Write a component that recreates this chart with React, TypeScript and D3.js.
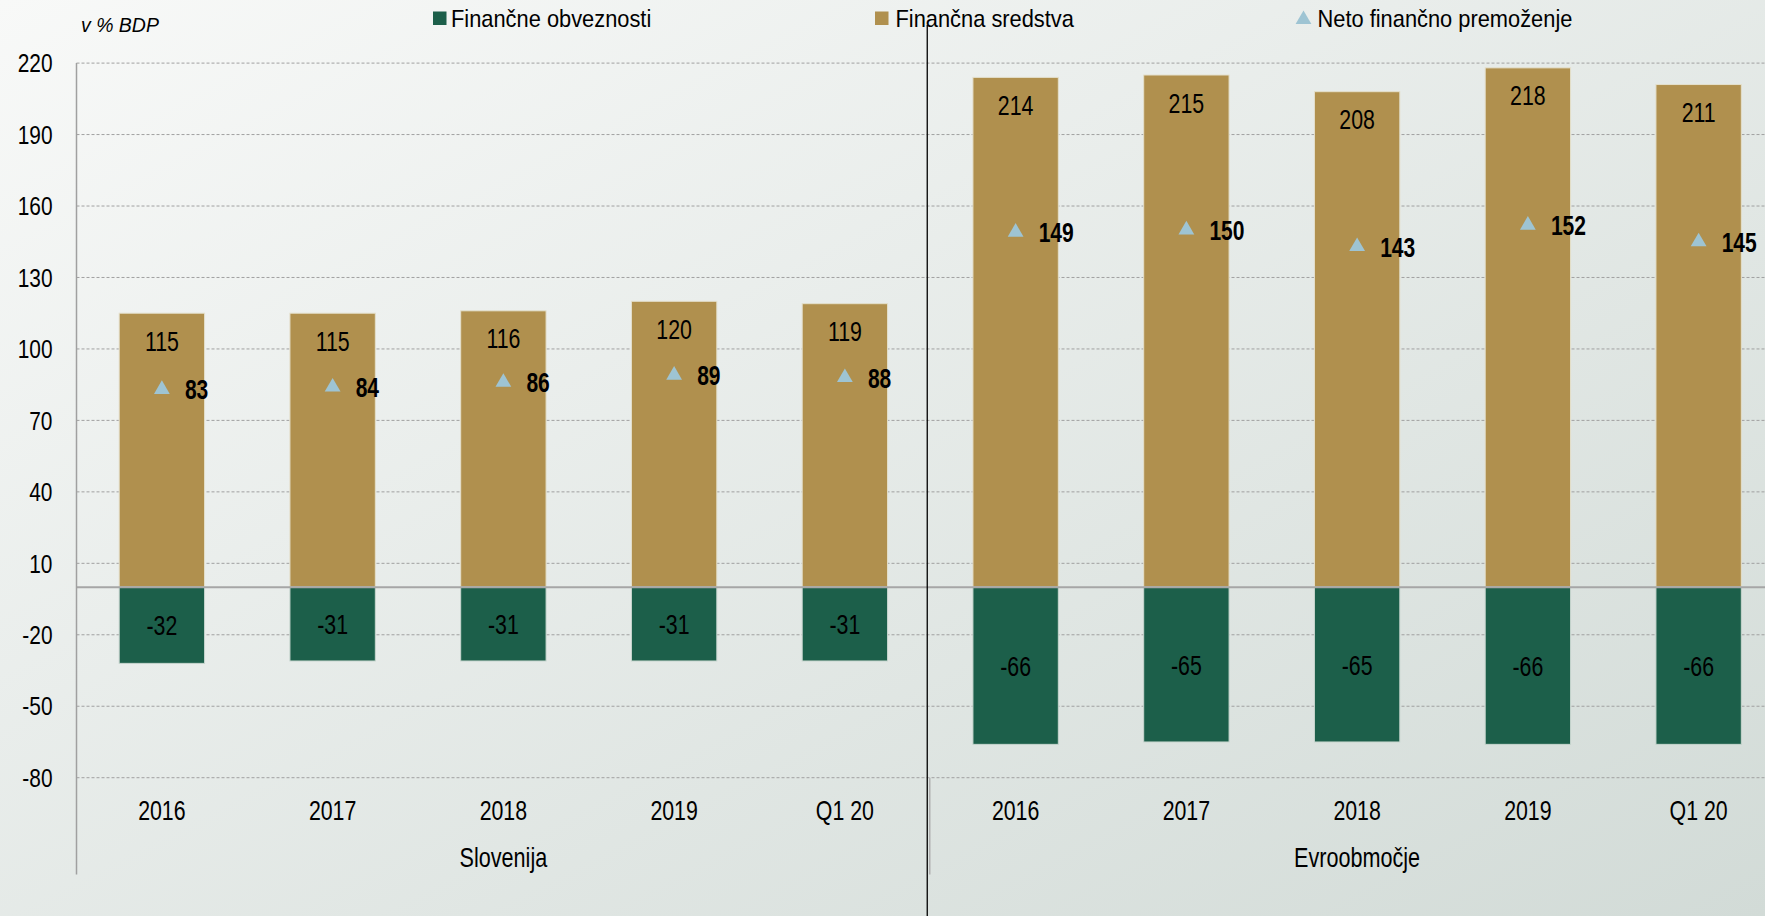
import React from "react";
import * as d3 from "d3";

const groups = ["Slovenija", "Evroobmočje"];
const periods = ["2016", "2017", "2018", "2019", "Q1 20"];
const assetsSI = [115, 115, 116, 120, 119];
const liabilitiesSI = [-32, -31, -31, -31, -31];
const netSI = [83, 84, 86, 89, 88];
const assetsEA = [214, 215, 208, 218, 211];
const liabilitiesEA = [-66, -65, -65, -66, -66];
const netEA = [149, 150, 143, 152, 145];
const yTicks = [-80, -50, -20, 10, 40, 70, 100, 130, 160, 190, 220];
const legendLabels = ["Finančne obveznosti", "Finančna sredstva", "Neto finančno premoženje"];
const yTitle = "v % BDP";

const W = 1765;
const H = 916;
const FONT = "'Liberation Sans', Arial, sans-serif";
const C_ASSET = "#B0904E";
const C_LIAB = "#1C5F4A";
const C_NET = "#9EC4D3";

type Row = { key: string; group: string; period: string; assets: number; liab: number; net: number };

const rows: Row[] = [];
groups.forEach((g, gi) => {
  const a = gi === 0 ? assetsSI : assetsEA;
  const l = gi === 0 ? liabilitiesSI : liabilitiesEA;
  const n = gi === 0 ? netSI : netEA;
  periods.forEach((p, i) => {
    rows.push({ key: g + "|" + p, group: g, period: p, assets: a[i], liab: l[i], net: n[i] });
  });
});

function NText(props: {
  x: number;
  y: number;
  sx?: number;
  size: number;
  anchor?: string;
  bold?: boolean;
  italic?: boolean;
  children: React.ReactNode;
}) {
  const { x, y, sx = 0.8, size, anchor = "start", bold, italic, children } = props;
  return (
    <text
      transform={`translate(${x},${y}) scale(${sx},1)`}
      textAnchor={anchor}
      fontSize={size}
      fontWeight={bold ? "bold" : "normal"}
      fontStyle={italic ? "italic" : "normal"}
      fill="#000"
    >
      {children}
    </text>
  );
}

export default function App() {
  const left = 76.5;
  const x = d3
    .scaleBand<string>()
    .domain(rows.map((r) => r.key))
    .range([left, 1784])
    .paddingInner(0.5)
    .paddingOuter(0.25);
  const y = d3.scaleLinear().domain([-80, 220]).range([777.7, 63.1]);
  const bw = x.bandwidth();
  const step = x.step();
  const tri = d3.symbol().type(d3.symbolTriangle).size(108)() as string;
  const groupMid = (gi: number) => {
    const first = x(rows[gi * 5].key)! - step * 0.25;
    const last = x(rows[gi * 5 + 4].key)! + bw + step * 0.25;
    return (first + last) / 2;
  };
  const sepX = x(rows[5].key)! - step * 0.25;

  return (
    <svg
      width={W}
      height={H}
      style={{ position: "absolute", left: 0, top: 0, display: "block" }}
      fontFamily={FONT}
    >
      <defs>
        <linearGradient id="bg" x1="0" y1="0" x2="1" y2="1">
          <stop offset="0" stopColor="#f8f9f8" />
          <stop offset="1" stopColor="#d2dbd7" />
        </linearGradient>
      </defs>
      <rect x={0} y={0} width={W} height={H} fill="url(#bg)" />

      {/* gridlines */}
      {yTicks.map((t) => (
        <line
          key={"g" + t}
          x1={left}
          x2={W}
          y1={y(t)}
          y2={y(t)}
          stroke="#a0a0a0"
          strokeWidth={1}
          strokeDasharray="3,2"
        />
      ))}

      {/* bars */}
      {rows.map((r) => (
        <g key={r.key}>
          <rect
            x={x(r.key)!}
            y={y(r.assets)}
            width={bw}
            height={y(0) - y(r.assets)}
            fill={C_ASSET}
            stroke="#e4e0cc"
            strokeWidth={1}
          />
          <rect
            x={x(r.key)!}
            y={y(0)}
            width={bw}
            height={y(r.liab) - y(0)}
            fill={C_LIAB}
            stroke="#c8d6cf"
            strokeWidth={1}
          />
        </g>
      ))}

      {/* zero line */}
      <line x1={left} x2={W} y1={y(0)} y2={y(0)} stroke="#a6a6a6" strokeWidth={2} />

      {/* axis lines */}
      <line x1={left} x2={left} y1={y(220)} y2={874.5} stroke="#a0a0a0" strokeWidth={1.5} />
      <line x1={sepX - 0.5} x2={sepX - 0.5} y1={y(-80)} y2={874.5} stroke="#b0b0b0" strokeWidth={1.5} />
      <line x1={sepX - 3} x2={sepX - 3} y1={25} y2={H} stroke="#000" strokeWidth={1.3} />

      {/* y tick labels */}
      {yTicks.map((t) => (
        <NText key={"t" + t} x={52.5} y={y(t) + 9.2} size={25.5} sx={0.82} anchor="end">
          {t}
        </NText>
      ))}

      {/* value labels */}
      {rows.map((r) => {
        const cx = x(r.key)! + bw / 2;
        return (
          <g key={"l" + r.key}>
            <NText x={cx} y={y(r.assets) + 37.5} size={27} sx={0.79} anchor="middle">
              {r.assets}
            </NText>
            <NText x={cx} y={y(r.liab / 2) + 10} size={27} sx={0.79} anchor="middle">
              {r.liab}
            </NText>
            <path d={tri} transform={`translate(${cx},${y(r.net)})`} fill={C_NET} />
            <NText x={cx + 23} y={y(r.net) + 10} size={27} sx={0.78} bold>
              {r.net}
            </NText>
            <NText x={cx} y={820} size={27} sx={0.79} anchor="middle">
              {r.period}
            </NText>
          </g>
        );
      })}

      {/* group labels */}
      {groups.map((g, gi) => (
        <NText key={g} x={groupMid(gi)} y={867} size={27} sx={0.8} anchor="middle">
          {g}
        </NText>
      ))}

      {/* y title */}
      <NText x={81} y={31.5} size={20.5} sx={0.95} italic>
        {yTitle}
      </NText>

      {/* legend */}
      <rect x={433} y={11.5} width={13.5} height={13.5} fill={C_LIAB} />
      <NText x={451} y={26.5} size={24} sx={0.91}>
        {legendLabels[0]}
      </NText>
      <rect x={875} y={11.5} width={13.5} height={13.5} fill={C_ASSET} />
      <NText x={895.5} y={26.5} size={24} sx={0.91}>
        {legendLabels[1]}
      </NText>
      <path d={tri} transform="translate(1303.5,19.5)" fill={C_NET} />
      <NText x={1317.5} y={26.5} size={24} sx={0.91}>
        {legendLabels[2]}
      </NText>
    </svg>
  );
}
